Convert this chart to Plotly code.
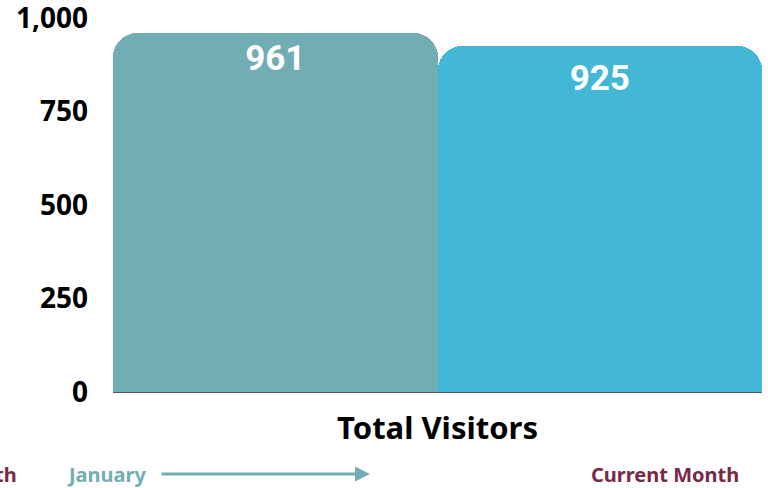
import plotly.graph_objects as go

categories = ["Total Visitors"]
series_names = ["January", "Current Month"]
january_values = [961]
current_values = [925]
tick_vals = [0, 250, 500, 750, 1000]
tick_text = ["0", "250", "500", "750", "1,000"]

teal = "#70AEB4"
blue = "#42B8D6"
maroon = "#7A2748"
font_main = "Noto Sans"

fig = go.Figure()
for name, vals, col in [(series_names[0], january_values, teal),
                        (series_names[1], current_values, blue)]:
    fig.add_trace(go.Bar(
        x=categories, y=vals, name=name,
        marker=dict(color=col, cornerradius=24, line=dict(width=0)),
        hoverinfo="skip",
    ))
for name, vals, pad in [(series_names[0], january_values, 16),
                        (series_names[1], current_values, 26)]:
    fig.add_trace(go.Scatter(
        x=categories, y=vals, name=name + " label", mode="markers+text",
        marker=dict(size=pad, opacity=0),
        text=[f"{v:,}" for v in vals], textposition="bottom center",
        textfont=dict(family="Roboto", size=35, color="white", weight="bold"),
        cliponaxis=False, hoverinfo="skip",
    ))

fig.update_layout(
    width=768, height=488,
    margin=dict(l=113, r=6, t=18, b=96, autoexpand=False),
    barmode="group", bargap=0, bargroupgap=0,
    scattermode="group", scattergap=0,
    showlegend=False,
    plot_bgcolor="white", paper_bgcolor="white",
    font=dict(family=font_main),
)
fig.update_yaxes(
    range=[0, 1000], tickvals=tick_vals, ticktext=tick_text,
    tickfont=dict(family=font_main, size=28, color="black", weight="bold"),
    showgrid=True, gridcolor="#cccccc", gridwidth=1,
    zeroline=False, showline=False, ticks="", ticklabelstandoff=24,
    automargin=False, ticklabeloverflow="allow",
)
fig.update_xaxes(
    tickfont=dict(family=font_main, size=31, color="black", weight="bold"),
    showline=True, linecolor="#555555", linewidth=1,
    ticks="", ticklabelstandoff=9, automargin=False, ticklabeloverflow="allow",
)

ann_y = (392 - 474) / 374
fig.add_annotation(xref="paper", yref="paper", x=(19 - 113) / 649, y=ann_y,
                   text="Previous Month", showarrow=False, xanchor="right", yanchor="middle",
                   font=dict(family=font_main, size=20, color=maroon, weight="bold"))
fig.add_annotation(xref="paper", yref="paper", x=(65 - 113) / 649, y=ann_y,
                   text="January", showarrow=False, xanchor="left", yanchor="middle",
                   font=dict(family=font_main, size=20, color=teal, weight="bold"))
fig.add_annotation(xref="paper", yref="paper", x=(370 - 113) / 649, y=ann_y,
                   text="", showarrow=True, ax=-210, ay=0,
                   arrowhead=2, arrowsize=1, arrowwidth=3, arrowcolor=teal)
fig.add_annotation(xref="paper", yref="paper", x=(741 - 113) / 649, y=ann_y,
                   text="Current Month", showarrow=False, xanchor="right", yanchor="middle",
                   font=dict(family=font_main, size=20, color=maroon, weight="bold"))

fig.write_html("out.html", config={"displayModeBar": False},
               post_script="document.body.style.margin='0';document.body.style.overflow='hidden';")
